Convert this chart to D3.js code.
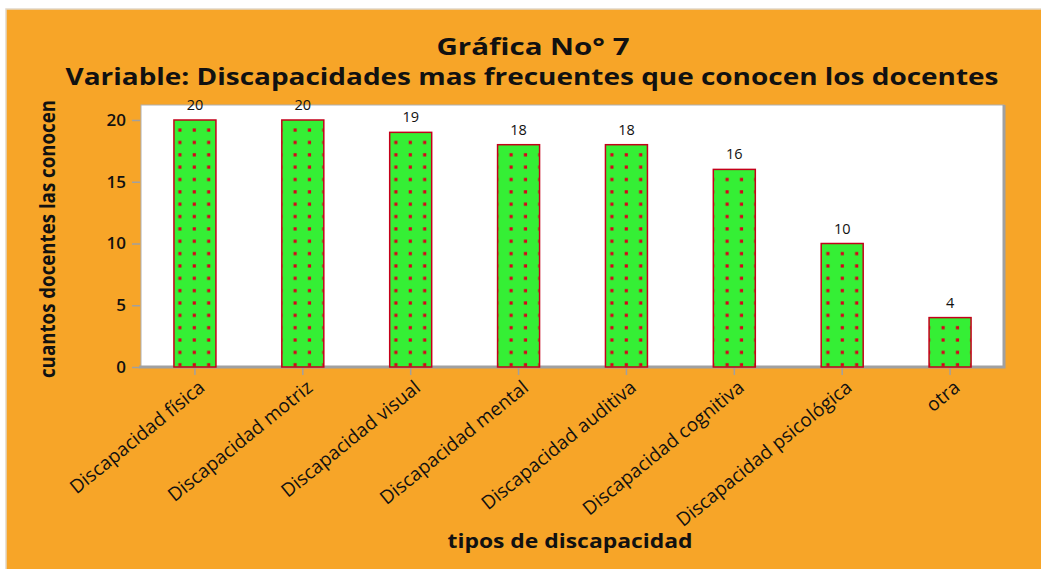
<!DOCTYPE html>
<html>
<head>
<meta charset="utf-8">
<script src="https://cdn.jsdelivr.net/npm/d3@7"></script>
<style>
  body { margin: 0; background: #fff; }
  svg { display: block; }
</style>
</head>
<body>
<div id="chart"></div>
<script>
// data
var categories = ["Discapacidad física", "Discapacidad motriz", "Discapacidad visual",
  "Discapacidad mental", "Discapacidad auditiva", "Discapacidad cognitiva",
  "Discapacidad psicológica", "otra"];
var values = [20, 20, 19, 18, 18, 16, 10, 4];
var yTicks = [0, 5, 10, 15, 20];

var W = 1041, H = 569;
var plot = { left: 141, top: 105, right: 1004, bottom: 367 };

var svg = d3.select("#chart").append("svg")
  .attr("width", W).attr("height", H);

// dot pattern for the bars
var defs = svg.append("defs");
var pat = defs.append("pattern")
  .attr("id", "dots")
  .attr("patternUnits", "userSpaceOnUse")
  .attr("width", 14.4).attr("height", 12.35);
pat.append("rect").attr("width", 14.4).attr("height", 12.35).attr("fill", "#35ef35");
pat.append("rect").attr("x", 5.5).attr("y", 5).attr("width", 3.2).attr("height", 3.2).attr("fill", "#d9001b");

// orange background (runs off right / bottom edge)
svg.append("rect")
  .attr("x", 6).attr("y", 9)
  .attr("width", W + 10).attr("height", H + 10)
  .attr("fill", "#f7a528")
  .attr("stroke", "#e2d7c8").attr("stroke-width", 1.5);

// scales
var x = d3.scaleBand().domain(categories).range([plot.left, plot.right]);
var y = d3.scaleLinear().domain([0, 20]).range([plot.bottom, 120]);

// plot area
svg.append("rect")
  .attr("x", plot.left).attr("y", plot.top)
  .attr("width", plot.right - plot.left).attr("height", plot.bottom - plot.top)
  .attr("fill", "#fff")
  .attr("stroke", "#b0b0b0").attr("stroke-width", 1);
svg.append("path")
  .attr("d", `M${plot.right},${plot.top}V${plot.bottom}H${plot.left - 2}`)
  .attr("fill", "none").attr("stroke", "#a0a0a0").attr("stroke-width", 3);

var font = "'Open Sans', sans-serif";

// y axis
var yAxis = svg.append("g")
  .attr("transform", `translate(${plot.left - 1},0)`)
  .call(d3.axisLeft(y).tickValues(yTicks).tickSize(8).tickPadding(6));
yAxis.select(".domain").remove();
yAxis.selectAll("line").attr("stroke", "#a0a0a0").attr("stroke-width", 1.5);
yAxis.selectAll("text")
  .attr("fill", "#111")
  .style("font-family", font)
  .style("font-size", "17px").style("font-weight", "600");

// x axis
var xAxis = svg.append("g")
  .attr("transform", `translate(0,${plot.bottom + 1})`)
  .call(d3.axisBottom(x).tickSize(7).tickPadding(4));
xAxis.select(".domain").remove();
xAxis.selectAll("line").attr("stroke", "#a0a0a0").attr("stroke-width", 1.5);
xAxis.selectAll("text")
  .attr("fill", "#111")
  .style("font-family", font)
  .style("font-size", "19px")
  .attr("text-anchor", "end")
  .attr("dy", "0.35em")
  .attr("transform", "translate(0,8) rotate(-39)");

// bars
var bw = 42;
svg.selectAll("rect.bar")
  .data(values)
  .enter().append("rect")
  .attr("class", "bar")
  .attr("x", (d, i) => x(categories[i]) + x.bandwidth() / 2 - bw / 2)
  .attr("y", d => y(d))
  .attr("width", bw)
  .attr("height", d => y(0) - y(d))
  .attr("fill", "url(#dots)")
  .attr("stroke", "#c4001a").attr("stroke-width", 1.5);

// value labels
svg.selectAll("text.val")
  .data(values)
  .enter().append("text")
  .attr("class", "val")
  .attr("x", (d, i) => x(categories[i]) + x.bandwidth() / 2)
  .attr("y", d => y(d) - 10)
  .attr("text-anchor", "middle")
  .style("font-family", font)
  .style("font-size", "14.5px")
  .attr("fill", "#111")
  .text(d => d);

// titles
svg.append("text")
  .attr("x", 533).attr("y", 55)
  .attr("text-anchor", "middle")
  .attr("textLength", 193).attr("lengthAdjust", "spacingAndGlyphs")
  .style("font-family", font)
  .style("font-size", "24px").style("font-weight", "700")
  .attr("fill", "#111")
  .text("Gráfica No° 7");
svg.append("text")
  .attr("x", 532).attr("y", 85)
  .attr("text-anchor", "middle")
  .attr("textLength", 933).attr("lengthAdjust", "spacingAndGlyphs")
  .style("font-family", font)
  .style("font-size", "24px").style("font-weight", "700")
  .attr("fill", "#111")
  .text("Variable: Discapacidades mas frecuentes que conocen los docentes");

// axis titles
svg.append("text")
  .attr("transform", "translate(55,239) rotate(-90)")
  .attr("text-anchor", "middle")
  .attr("textLength", 278).attr("lengthAdjust", "spacingAndGlyphs")
  .style("font-family", font)
  .style("font-size", "21px").style("font-weight", "700")
  .attr("fill", "#111")
  .text("cuantos docentes las conocen");
svg.append("text")
  .attr("x", 570).attr("y", 548)
  .attr("text-anchor", "middle")
  .attr("textLength", 245).attr("lengthAdjust", "spacingAndGlyphs")
  .style("font-family", font)
  .style("font-size", "20px").style("font-weight", "700")
  .attr("fill", "#111")
  .text("tipos de discapacidad");
</script>
</body>
</html>
